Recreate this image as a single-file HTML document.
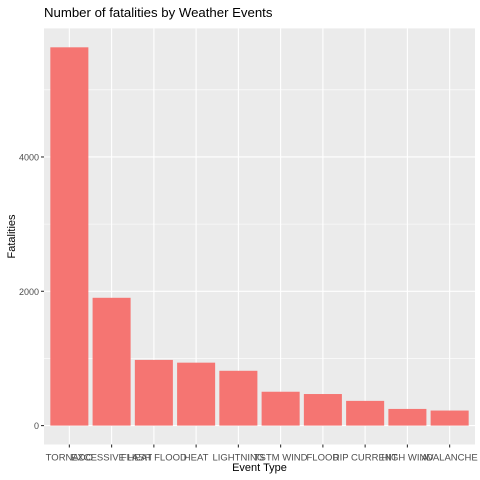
<!DOCTYPE html>
<html><head><meta charset="utf-8"><style>
body{margin:0;background:#fff;font-family:"Liberation Sans",Arial,sans-serif}
</style></head><body>
<svg id="chart" width="480" height="480" xmlns="http://www.w3.org/2000/svg" style="display:block">
<text x="44" y="17" font-size="13.2" fill="#000">Number of fatalities by Weather Events</text>
<rect x="44" y="28.4" width="431" height="416.1" fill="#EBEBEB"/>
<g id="grid"></g><g id="bars"></g><g id="axes"></g>
<text x="259.5" y="471" font-size="11" text-anchor="middle">Event Type</text>
<text transform="translate(15,236.5) rotate(-90)" font-size="11" text-anchor="middle">Fatalities</text>
</svg>
<script>
const categories=["TORNADO","EXCESSIVE HEAT","FLASH FLOOD","HEAT","LIGHTNING","TSTM WIND","FLOOD","RIP CURRENT","HIGH WIND","AVALANCHE"];
const fatalities=[5633,1903,978,937,816,504,470,368,248,224];
const yTicks=[0,2000,4000];
const yMinor=[1000,3000,5000];
const NS="http://www.w3.org/2000/svg";
const L=44,R=475,T=28.4,B=444.5;
const maxV=Math.max(...fatalities),pad=maxV*0.05;
function y(v){return B-(v+pad)/(maxV+2*pad)*(B-T);}
const step=(R-L)/(categories.length+0.2);
function x(i){return L+step*(0.6+i);}
function mk(tag,attrs,parent){const e=document.createElementNS(NS,tag);for(const k in attrs)e.setAttribute(k,attrs[k]);document.getElementById(parent).appendChild(e);return e;}
yMinor.forEach(v=>{const e=mk('line',{x1:L,x2:R,y1:y(v),y2:y(v),stroke:'#fff','stroke-width':0.55},'grid');

});
yTicks.forEach(v=>{const e=mk('line',{x1:L,x2:R,y1:y(v),y2:y(v),stroke:'#fff','stroke-width':1.1},'grid');


const t=mk('line',{x1:L-3,x2:L,y1:y(v),y2:y(v),stroke:'#333','stroke-width':1.1},'axes');


const l=mk('text',{x:L-5,y:y(v)+3.5,'font-size':9,fill:'#4D4D4D','text-anchor':'end'},'axes');l.textContent=v;

});
categories.forEach((c,i)=>{const g=mk('line',{x1:x(i),x2:x(i),y1:T,y2:B,stroke:'#fff','stroke-width':1.1},'grid');


const bw=step*0.9;
const b=mk('rect',{x:x(i)-bw/2,y:y(fatalities[i]),width:bw,height:y(0)-y(fatalities[i]),fill:'#F5716D','fill-opacity':0.97},'bars');


const t=mk('line',{x1:x(i),x2:x(i),y1:B,y2:B+3,stroke:'#333','stroke-width':1.1},'axes');


const l=mk('text',{x:x(i),y:B+16,'font-size':9.5,fill:'#4D4D4D','text-anchor':'middle'},'axes');l.textContent=c;

});
</script>
</body></html>
